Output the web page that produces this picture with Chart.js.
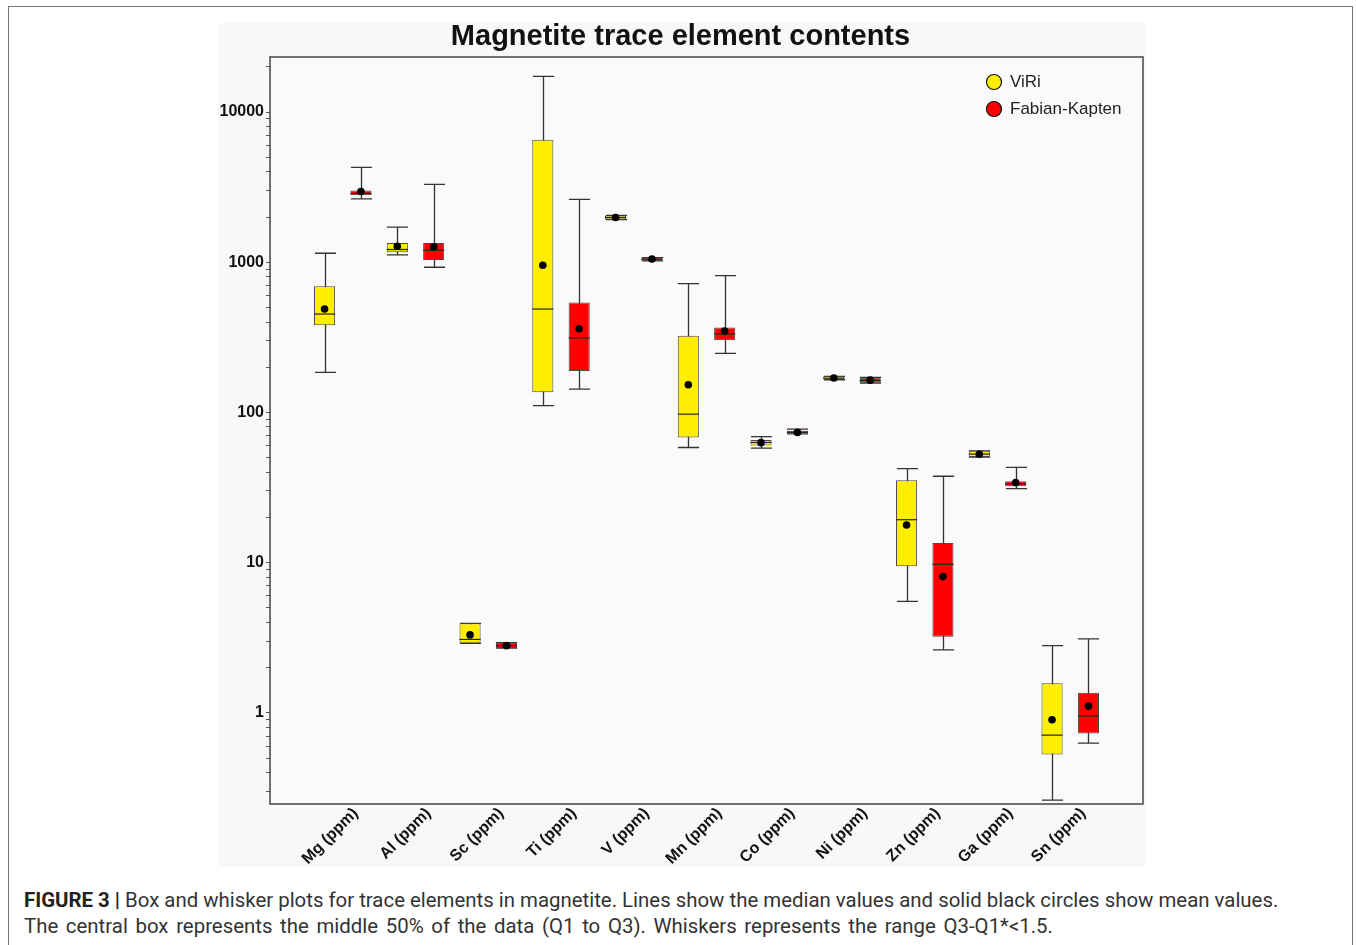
<!DOCTYPE html>
<html>
<head>
<meta charset="utf-8">
<script src="https://cdn.jsdelivr.net/npm/chart.js@4.4.1/dist/chart.umd.min.js"></script>
<style>
  body { margin: 0; background: #fff; width: 1356px; height: 945px; position: relative; overflow: hidden; }
  #frame { position: absolute; left: 8px; top: 6px; width: 1343px; height: 960px; border: 1px solid #777; }
  #chartBg { position: absolute; left: 218px; top: 23px; width: 927px; height: 844px; background: #f8f8f8; }
  #wrap { position: absolute; left: 218px; top: 0; width: 927px; height: 870px; }
  #caption { position: absolute; left: 24px; top: 887px; width: 1320px; font-family: Roboto, "Noto Sans", sans-serif; font-size: 20.4px; line-height: 26px; color: #333; white-space: nowrap; }
  #caption b { font-weight: 700; color: #222; }
  #caption .l2 { word-spacing: 2.6px; }
</style>
</head>
<body>
<div id="frame"></div>
<div id="chartBg"></div>
<div id="wrap"><canvas id="chart" width="927" height="870"></canvas></div>
<div id="caption"><b>FIGURE 3 |</b> Box and whisker plots for trace elements in magnetite. Lines show the median values and solid black circles show mean values.<br><span class="l2">The central box represents the middle 50% of the data (Q1 to Q3). Whiskers represents the range Q3-Q1*&lt;1.5.</span></div>
<script>
const categories = ["Mg (ppm)", "Al (ppm)", "Sc (ppm)", "Ti (ppm)", "V (ppm)", "Mn (ppm)", "Co (ppm)", "Ni (ppm)", "Zn (ppm)", "Ga (ppm)", "Sn (ppm)"];

// ViRi
const viriLow    = [185, 1119, 2.9, 111, 1925, 58.4, 57.8, 165, 5.52, 50.5, 0.262];
const viriQ1     = [380, 1166, 2.9, 136, 1925, 68, 60.3, 165, 9.45, 50.5, 0.527];
const viriMedian = [452, 1216, 3.08, 488, 1985, 97.4, 63.1, 169, 19.3, 52.8, 0.71];
const viriQ3     = [692, 1345, 3.94, 6535, 2050, 324, 65.4, 174, 35.4, 55.5, 1.57];
const viriHigh   = [1148, 1711, 3.94, 17300, 2050, 721, 68.9, 174, 42.3, 55.5, 2.8];
const viriMean   = [488, 1279, 3.3, 955, 1986, 153, 62.9, 169.5, 17.8, 52.7, 0.898];

// Fabian-Kapten
const fkLow    = [2642, 926, 2.70, 143, 1022, 247, 72, 157, 2.62, 31.1, 0.628];
const fkQ1     = [2790, 1036, 2.70, 189, 1022, 302, 72.8, 158, 3.21, 32.3, 0.728];
const fkMedian = [2870, 1202, 2.80, 313, 1047, 333, 73.7, 163, 9.74, 33.5, 0.95];
const fkQ3     = [3000, 1345, 2.93, 539, 1075, 367, 75.5, 170, 13.5, 34.8, 1.36];
const fkHigh   = [4277, 3296, 2.93, 2618, 1075, 815, 77.4, 171, 37.6, 43, 3.11];
const fkMean   = [2960, 1265, 2.80, 361, 1050, 348, 73.6, 164, 8.07, 34.1, 1.108];

const yMin = 0.247;
const yMax = 23260;

// one empty slot each side of the categories, as in the original plot
const pad = (arr) => [null, ...arr, null];
const labels = ["", ...categories, ""];

const series = [
  { name: "ViRi", color: "#ffee00", low: viriLow, q1: viriQ1, med: viriMedian, q3: viriQ3, high: viriHigh, mean: viriMean },
  { name: "Fabian-Kapten", color: "#ff0000", low: fkLow, q1: fkQ1, med: fkMedian, q3: fkQ3, high: fkHigh, mean: fkMean },
];

const boxPlugin = {
  id: "boxExtras",
  beforeDatasetsDraw(chart) {
    const { ctx, chartArea, scales } = chart;
    ctx.save();
    ctx.fillStyle = "#fafafa";
    ctx.fillRect(chartArea.left, chartArea.top, chartArea.right - chartArea.left, chartArea.bottom - chartArea.top);
    // whiskers behind boxes
    ctx.strokeStyle = "#333";
    ctx.lineWidth = 1.3;
    series.forEach((s, d) => {
      const meta = chart.getDatasetMeta(d);
      s.low.forEach((lo, i) => {
        const bar = meta.data[i + 1];
        if (!bar) return;
        const x = Math.round(bar.x) + 0.5;
        const hw = bar.width / 2;
        const yLo = scales.y.getPixelForValue(lo);
        const yHi = scales.y.getPixelForValue(s.high[i]);
        ctx.beginPath();
        ctx.moveTo(x, yLo); ctx.lineTo(x, yHi);
        ctx.moveTo(x - hw, yLo); ctx.lineTo(x + hw, yLo);
        ctx.moveTo(x - hw, yHi); ctx.lineTo(x + hw, yHi);
        ctx.stroke();
      });
    });
    ctx.restore();
  },
  afterDatasetsDraw(chart) {
    const { ctx, chartArea, scales } = chart;
    ctx.save();
    series.forEach((s, d) => {
      const meta = chart.getDatasetMeta(d);
      s.med.forEach((m, i) => {
        const bar = meta.data[i + 1];
        if (!bar) return;
        const hw = bar.width / 2;
        const ym = scales.y.getPixelForValue(m);
        ctx.strokeStyle = "#222";
        ctx.lineWidth = 1.2;
        ctx.beginPath();
        ctx.moveTo(bar.x - hw, ym); ctx.lineTo(bar.x + hw, ym);
        ctx.stroke();
        const yMean = scales.y.getPixelForValue(s.mean[i]);
        ctx.fillStyle = "#000";
        ctx.beginPath();
        ctx.arc(bar.x, yMean, 3.8, 0, Math.PI * 2);
        ctx.fill();
      });
    });
    // plot frame
    ctx.strokeStyle = "#444";
    ctx.lineWidth = 1.5;
    ctx.strokeRect(chartArea.left, chartArea.top, chartArea.right - chartArea.left, chartArea.bottom - chartArea.top);
    // legend inside plot, top right
    ctx.font = '17px "Liberation Sans", Arial, sans-serif';
    ctx.textBaseline = "middle";
    ctx.textAlign = "left";
    series.forEach((s, k) => {
      const cy = 82 + k * 27;
      ctx.beginPath();
      ctx.arc(776, cy, 7.5, 0, Math.PI * 2);
      ctx.fillStyle = s.color;
      ctx.fill();
      ctx.strokeStyle = "#111";
      ctx.lineWidth = 1.2;
      ctx.stroke();
      ctx.fillStyle = "#222";
      ctx.fillText(s.name, 792, cy);
    });
    ctx.restore();
  }
};

new Chart(document.getElementById("chart"), {
  type: "bar",
  data: {
    labels: labels,
    datasets: series.map((s) => ({
      label: s.name,
      data: pad(s.q1.map((v, i) => [v, s.q3[i]])),
      backgroundColor: s.color,
      borderColor: "#4a4a4a",
      borderWidth: 1,
      borderSkipped: false,
      categoryPercentage: 1.0,
      barPercentage: 0.58,
    })),
  },
  options: {
    responsive: false,
    animation: false,
    layout: { padding: { left: 0, right: 2, top: 0, bottom: 0 } },
    plugins: {
      legend: { display: false },
      tooltip: { enabled: false },
      title: {
        display: true,
        text: "Magnetite trace element contents",
        color: "#111",
        font: { family: '"Liberation Sans", Arial, sans-serif', size: 29, weight: "bold" },
        padding: { top: 19.6, bottom: 2.6 },
      },
    },
    scales: {
      x: {
        type: "category",
        offset: false,
        grid: { display: false },
        border: { display: false },
        ticks: {
          autoSkip: false,
          minRotation: 45,
          maxRotation: 45,
          color: "#111",
          padding: -8,
          labelOffset: 13,
          font: { family: '"Liberation Sans", Arial, sans-serif', size: 16, weight: "bold" },
        },
        afterFit(scale) {
          scale.height = 66;
          scale.paddingLeft = 0;
          scale.paddingRight = 0;
        },
      },
      y: {
        type: "logarithmic",
        min: yMin,
        max: yMax,
        grid: { display: true, drawOnChartArea: false, drawTicks: true, tickLength: 4, color: "#555" },
        border: { display: false },
        afterBuildTicks(scale) {
          const t = [];
          for (let e = -1; e <= 4; e++) {
            for (let m = 1; m <= 9; m++) {
              const v = m * Math.pow(10, e);
              if (v >= yMin && v <= yMax) t.push({ value: v, major: m === 1 });
            }
          }
          scale.ticks = t;
        },
        ticks: {
          autoSkip: false,
          padding: 2,
          color: "#111",
          font: { family: '"Liberation Sans", Arial, sans-serif', size: 16, weight: "bold" },
          callback(value) {
            const l = Math.log10(value);
            return Math.abs(l - Math.round(l)) < 1e-9 ? String(Math.round(value)) : "";
          },
        },
        afterFit(scale) { scale.width = 52; },
      },
    },
  },
  plugins: [boxPlugin],
});
</script>
</body>
</html>
